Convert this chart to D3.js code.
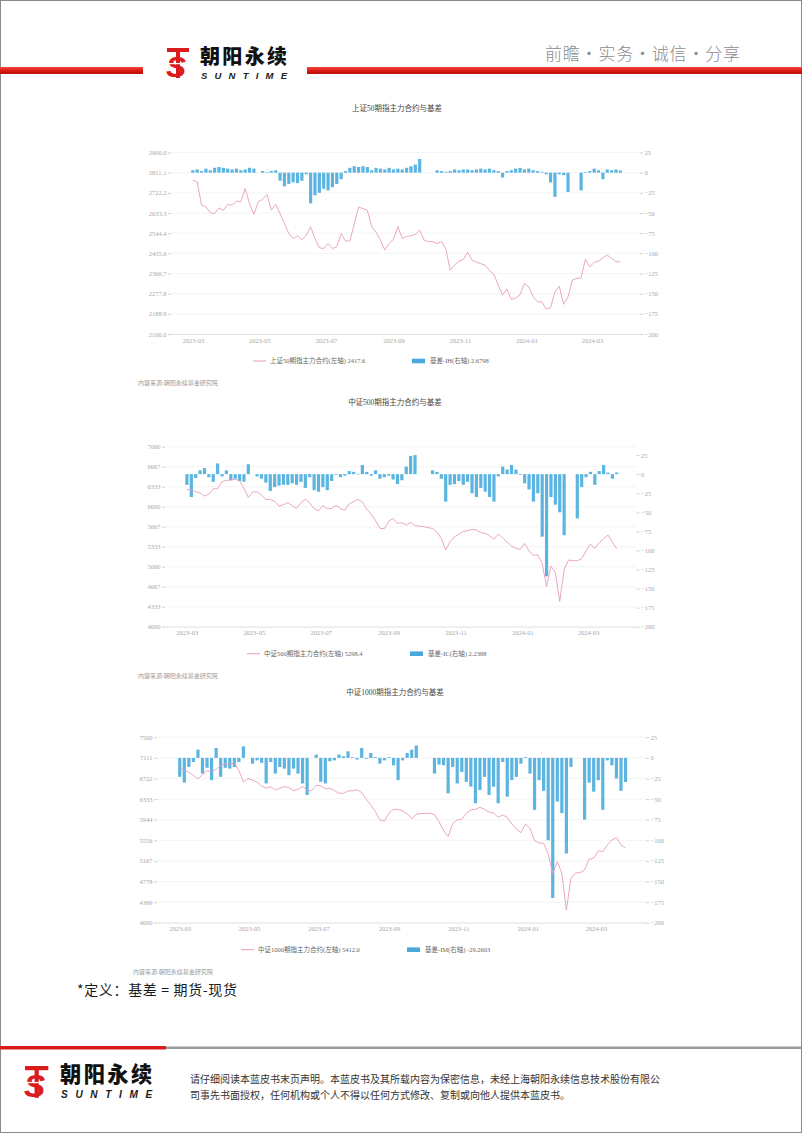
<!DOCTYPE html>
<html><head><meta charset="utf-8">
<script src="https://cdn.jsdelivr.net/npm/d3@7"></script>
<style>
html,body{margin:0;padding:0;background:#fff;}
svg{display:block;}
</style></head><body>
<svg id="page" width="802" height="1133"></svg>
<script>
// ---------- data ----------
const sampleStart = "2023-03-01";   // first trading sample
const sampleStepDays = 4;           // one sample every 4 calendar days
const xTickLabels = ["2023-03","2023-05","2023-07","2023-09","2023-11","2024-01","2024-03"];
const rightTicks = [25,0,-25,-50,-75,-100,-125,-150,-175,-200];

const ihTitle = "上证50期指主力合约与基差";
const ihLineName = "上证50期指主力合约(左轴) 2417.6";
const ihBarName = "基差-IH(右轴) 2.6798";
const ihLeftTicks = [2100,2188.89,2277.78,2366.67,2455.56,2544.44,2633.33,2722.22,2811.11,2900];
const ihPrice = [2778,2771,2668,2661,2634,2631,2656,2645,2671,2668,
  2686,2683,2741,2675,2627,2683,2694,2715,2646,2671,
  2631,2587,2543,2521,2533,2514,2536,2573,2521,2480,
  2477,2499,2477,2485,2542,2510,2510,2586,2659,2653,
  2645,2573,2548,2514,2470,2499,2518,2573,2521,2530,
  2533,2539,2558,2514,2507,2507,2499,2507,2474,2382,
  2404,2421,2429,2460,2426,2416,2410,2404,2379,2363,
  2316,2272,2298,2253,2257,2273,2323,2308,2264,2242,
  2242,2210,2216,2286,2310,2231,2264,2338,2345,2348,
  2430,2396,2416,2421,2436,2448,2433,2419,2417.6];
const ihBasis = [3,4,2,5,3,6,7,6,5,4,
  5,3,4,6,5,null,2,0.5,2,3,
  -10,-17,-14,-12,-13,-10,-2,-38,-28,-25,
  -20,-22,-18,-14,-8,2,6,8,7,8,
  7,3,6,5,4,6,4,5,4,6,
  8,10,17,null,null,null,3,2,1,2,
  4,3,4,4,3,4,5,4,5,3,
  2,-6,2,3,5,6,4,5,3,2,
  1,-2,-12,-30,-2,-3,-24,null,null,-22,
  0.5,2,5,3,-8,4,3,4,2.6798];

const icTitle = "中证500期指主力合约与基差";
const icLineName = "中证500期指主力合约(左轴) 5298.4";
const icBarName = "基差-IC(右轴) 2.2388";
const icLeftTicks = [4000,4333.33,4666.67,5000,5333.33,5666.67,6000,6333.33,6666.67,7000];
const icPrice = [6289,6278,6250,6228,6178,6211,6300,6300,6417,6439,
  6444,6456,6433,6306,6156,6244,6250,6194,6122,6122,
  6089,6011,6033,6067,6017,5972,6067,6128,6061,5967,
  5933,6017,5967,5972,6022,5967,5944,6044,6083,6122,
  6078,5961,5878,5767,5639,5633,5756,5806,5722,5733,
  5694,5739,5683,5678,5667,5650,5639,5578,5472,5278,
  5417,5500,5539,5589,5600,5622,5611,5567,5556,5517,
  5456,5544,5483,5411,5344,5306,5289,5389,5261,5194,
  5194,5056,4667,5011,4900,4420,4950,5111,5100,5100,
  5133,5267,5378,5306,5400,5467,5528,5411,5298.4];
const icBasis = [-14,-30,-5,5,8,-4,-10,14,-3,5,
  -8,-6,-9,-10,13,null,-3,-6,-11,-22,
  -17,-15,-14,-14,-12,-14,-10,-18,-4,-21,
  -23,-17,-21,-9,-1,-4,-2,4,3,0.5,
  12,3,-2,5,-6,-4,-2,-7,-13,-8,
  10,24,25,null,null,null,5,3,-6,-36,
  -14,-13,-9,-14,-10,-25,-30,-18,-23,-30,
  -36,-3,10,6,12,6,-1,-12,-20,-36,
  -25,-82,-134,-30,-40,-50,-80,null,null,-58,
  -17,-4,3,-14,4,12,2,-6,2.2388];

const imTitle = "中证1000期指主力合约与基差";
const imLineName = "中证1000期指主力合约(左轴) 5412.0";
const imBarName = "基差-IM(右轴) -29.2603";
const imLeftTicks = [4000,4388.89,4777.78,5166.67,5555.56,5944.44,6333.33,6722.22,7111.11,7500];
const imPrice = [6946,6883,6840,6783,6713,6795,6871,6852,6896,6972,
  6997,6984,7022,6871,6657,6720,6694,6650,6581,6537,
  6569,6506,6537,6569,6550,6493,6518,6575,6493,6493,
  6594,6581,6531,6537,6493,6443,6443,6487,6493,6512,
  6455,6330,6223,6097,5939,5920,6065,6141,6135,6109,
  6053,5971,6046,6059,6065,6065,6040,5908,5738,5625,
  5876,5939,5952,6065,6128,6141,6178,6141,6090,6071,
  5990,6034,5990,5864,5770,5700,5864,5782,5549,5505,
  5499,5297,4932,5153,4932,4240,4838,4939,4945,4995,
  5197,5216,5360,5342,5467,5562,5606,5467,5412.0];
const imBasis = [-23,-30,-11,-5,10,-19,-12,-27,12,-23,
  -12,-13,-11,-5,14,null,-7,-3,-6,-31,
  -5,-19,-11,-13,-21,-13,-19,-31,-45,null,
  4,-29,-31,-4,-3,4,2,8,1,-2,
  12,-1,6,1,-7,-3,1,-9,-27,-3,
  6,10,15,null,null,null,-19,-8,-9,-43,
  -11,-31,-17,-29,-35,-55,-39,-23,-45,-35,
  -55,-5,-47,-27,-23,-7,1,-19,-63,-27,
  -40,-100,-170,-53,-67,-116,-11,null,null,-75,
  -30,-41,-27,-63,-3,-9,-25,-40,-29.2603];

const sourceText = "内容来源:朝阳永续基金研究院";
const definitionText = "*定义：基差 = 期货-现货";
const footerLines = ["请仔细阅读本蓝皮书末页声明。本蓝皮书及其所载内容为保密信息，未经上海朝阳永续信息技术股份有限公",
  "司事先书面授权，任何机构或个人不得以任何方式修改、复制或向他人提供本蓝皮书。"];

// ---------- drawing ----------
const svg = d3.select("#page");
const F = "'Liberation Serif','Noto Sans CJK SC',serif";
const CJK = "'Noto Sans CJK SC',sans-serif";
const BAR = "#5cb5e0", LINE = "#e69cc2", RED = "#dc1c1c";

const parseDay = d3.timeParse("%Y-%m-%d");
const start = parseDay(sampleStart);
const dates = ihPrice.map((_, i) => d3.timeDay.offset(start, i * sampleStepDays));
const xTickDates = xTickLabels.map(d3.timeParse("%Y-%m"));
const xDomain = [parseDay("2023-02-09"), parseDay("2024-04-14")];

const defs = svg.append("defs");
const gr = defs.append("linearGradient").attr("id","redg").attr("x1","0").attr("y1","0").attr("x2","0").attr("y2","1");
gr.append("stop").attr("offset","0").attr("stop-color","#f04a3a");
gr.append("stop").attr("offset","0.5").attr("stop-color","#dd1a16");
gr.append("stop").attr("offset","1").attr("stop-color","#b80c0c");

// page border
svg.append("rect").attr("x",0.5).attr("y",0.5).attr("width",801).attr("height",1132)
  .attr("fill","none").attr("stroke","#8a8a8a").attr("stroke-width",1);

// header
svg.append("rect").attr("x",0).attr("y",67).attr("width",143).attr("height",7).attr("fill","url(#redg)");
svg.append("rect").attr("x",307).attr("y",67).attr("width",495).attr("height",7).attr("fill","url(#redg)");

function logo(x, y, s) {
  const g = svg.append("g").attr("transform", `translate(${x},${y}) scale(${s})`);
  g.append("rect").attr("x",0).attr("y",0).attr("width",22).attr("height",4).attr("fill",RED);
  g.append("rect").attr("x",9).attr("y",0).attr("width",4).attr("height",30).attr("fill",RED);
  g.append("text").attr("x",-1).attr("y",29).text("S")
    .style("font-family","'Liberation Sans',sans-serif").style("font-weight","bold")
    .style("font-style","italic").style("font-size","30px").attr("fill",RED);
  g.append("rect").attr("x",0).attr("y",15).attr("width",24).attr("height",1.2).attr("fill","#fff");
  g.append("text").attr("x",33).attr("y",15.5).text("朝阳永续")
    .style("font-family",CJK).style("font-weight","900").style("font-size","20px")
    .attr("textLength",87).attr("fill","#111");
  g.append("text").attr("x",34).attr("y",30.5).text("SUNTIME")
    .style("font-family","'Liberation Sans',sans-serif").style("font-weight","bold")
    .style("font-style","italic").style("font-size","9.5px")
    .attr("textLength",86).attr("lengthAdjust","spacing").attr("fill","#222");
}
logo(167, 48, 1);
svg.append("text").attr("x",545).attr("y",60).text("前瞻·实务·诚信·分享")
  .style("font-family",CJK).style("font-weight","300").style("font-size","17px")
  .attr("textLength",195).attr("fill","#8c8c8c");

// charts
const charts = [
  {title: ihTitle, top:152.5, bottom:334, left:171, right:640, leftDomain:[2100,2900], leftTicks: ihLeftTicks,
   fmt: d3.format(".1f"), rightDomain:[-200,25], price: ihPrice, basis: ihBasis,
   lineName: ihLineName, barName: ihBarName, legLine:253, legBar:412, srcX:138, titleX:397},
  {title: icTitle, top:446.7, bottom:626.7, left:165, right:636.5, leftDomain:[4000,7000], leftTicks: icLeftTicks,
   fmt: d3.format(".0f"), rightDomain:[-200,36], price: icPrice, basis: icBasis,
   lineName: icLineName, barName: icBarName, legLine:247, legBar:410, srcX:138, titleX:395},
  {title: imTitle, top:737.3, bottom:922.7, left:157, right:646, leftDomain:[4000,7500], leftTicks: imLeftTicks,
   fmt: d3.format(".0f"), rightDomain:[-200,25], price: imPrice, basis: imBasis,
   lineName: imLineName, barName: imBarName, legLine:241, legBar:407, srcX:133, titleX:395}
];

function styleText(sel, size, fill, fam) {
  sel.style("font-family", fam || F).style("font-size", size + "px").attr("fill", fill);
}

charts.forEach(c => {
  const x = d3.scaleTime().domain(xDomain).range([c.left, c.right]);
  const yL = d3.scaleLinear().domain(c.leftDomain).range([c.bottom, c.top]);
  const yR = d3.scaleLinear().domain(c.rightDomain).range([c.bottom, c.top]);
  const g = svg.append("g");

  // title
  styleText(g.append("text").attr("x", c.titleX).attr("y", c.top - 42).attr("text-anchor","middle").text(c.title), 7.5, "#444");

  // grid
  g.selectAll("line.grid").data(c.leftTicks).join("line").attr("class","grid")
    .attr("x1", c.left).attr("x2", c.right).attr("y1", d => yL(d)).attr("y2", d => yL(d))
    .attr("stroke", "#efefef").attr("stroke-width", 0.7);

  // left axis
  const la = g.append("g").attr("transform", `translate(${c.left},0)`)
    .call(d3.axisLeft(yL).tickValues(c.leftTicks).tickFormat(c.fmt).tickSize(3).tickPadding(1.5));
  la.select(".domain").remove();
  la.selectAll(".tick line").attr("stroke", "#d0d0d0");
  styleText(la.selectAll("text"), 6.5, "#a8a8a8");

  // right axis
  const ra = g.append("g").attr("transform", `translate(${c.right},0)`)
    .call(d3.axisRight(yR).tickValues(rightTicks).tickSize(3).tickPadding(1.5));
  ra.select(".domain").remove();
  ra.selectAll(".tick line").attr("stroke", "#d0d0d0");
  styleText(ra.selectAll("text"), 6.5, "#a8a8a8");

  // x axis
  const xa = g.append("g").attr("transform", `translate(0,${c.bottom})`)
    .call(d3.axisBottom(x).tickValues(xTickDates).tickFormat(d3.timeFormat("%Y-%m")).tickSize(0).tickPadding(4));
  xa.select(".domain").attr("stroke", "#e6e6e6");
  styleText(xa.selectAll("text"), 6.5, "#a8a8a8");

  // bars
  const bw = 3.2;
  const barData = dates.map((d, i) => ({d, v: c.basis[i]})).filter(p => p.v != null);
  g.selectAll("rect.bar").data(barData).join("rect").attr("class","bar")
    .attr("x", p => x(p.d) - bw / 2)
    .attr("y", p => Math.min(yR(0), yR(p.v)))
    .attr("width", bw)
    .attr("height", p => Math.max(0.6, Math.abs(yR(p.v) - yR(0))))
    .attr("fill", BAR);

  // line
  const line = d3.line().x((d, i) => x(dates[i])).y(d => yL(d));
  g.append("path").datum(c.price).attr("d", line)
    .attr("fill", "none").attr("stroke", LINE).attr("stroke-width", 0.9);

  // legend
  const ly = c.bottom + 27;
  g.append("line").attr("x1", c.legLine).attr("x2", c.legLine + 13).attr("y1", ly).attr("y2", ly)
    .attr("stroke", LINE).attr("stroke-width", 1);
  styleText(g.append("text").attr("x", c.legLine + 17).attr("y", ly + 2.3).text(c.lineName), 6.5, "#666");
  g.append("rect").attr("x", c.legBar).attr("y", ly - 2.3).attr("width", 13).attr("height", 4.6).attr("fill", "#4aa9dc");
  styleText(g.append("text").attr("x", c.legBar + 18).attr("y", ly + 2.3).text(c.barName), 6.5, "#666");

  // source
  styleText(g.append("text").attr("x", c.srcX).attr("y", c.bottom + 51).text(sourceText), 6, "#9a9a9a");
});

// definition
styleText(svg.append("text").attr("x", 77).attr("y", 995).attr("textLength", 160).text(definitionText), 14, "#1a1a1a", CJK);

// footer
svg.append("rect").attr("x",0).attr("y",1046).attr("width",166).attr("height",3.5).attr("fill",RED);
svg.append("rect").attr("x",166).attr("y",1046.5).attr("width",636).attr("height",2.5).attr("fill","#9a9a9a");
logo(25, 1066, 1.06);
footerLines.forEach((t, i) => {
  styleText(svg.append("text").attr("x", 190).attr("y", 1083 + i * 15.5).text(t), 10, "#333", CJK);
});
</script>
</body></html>
